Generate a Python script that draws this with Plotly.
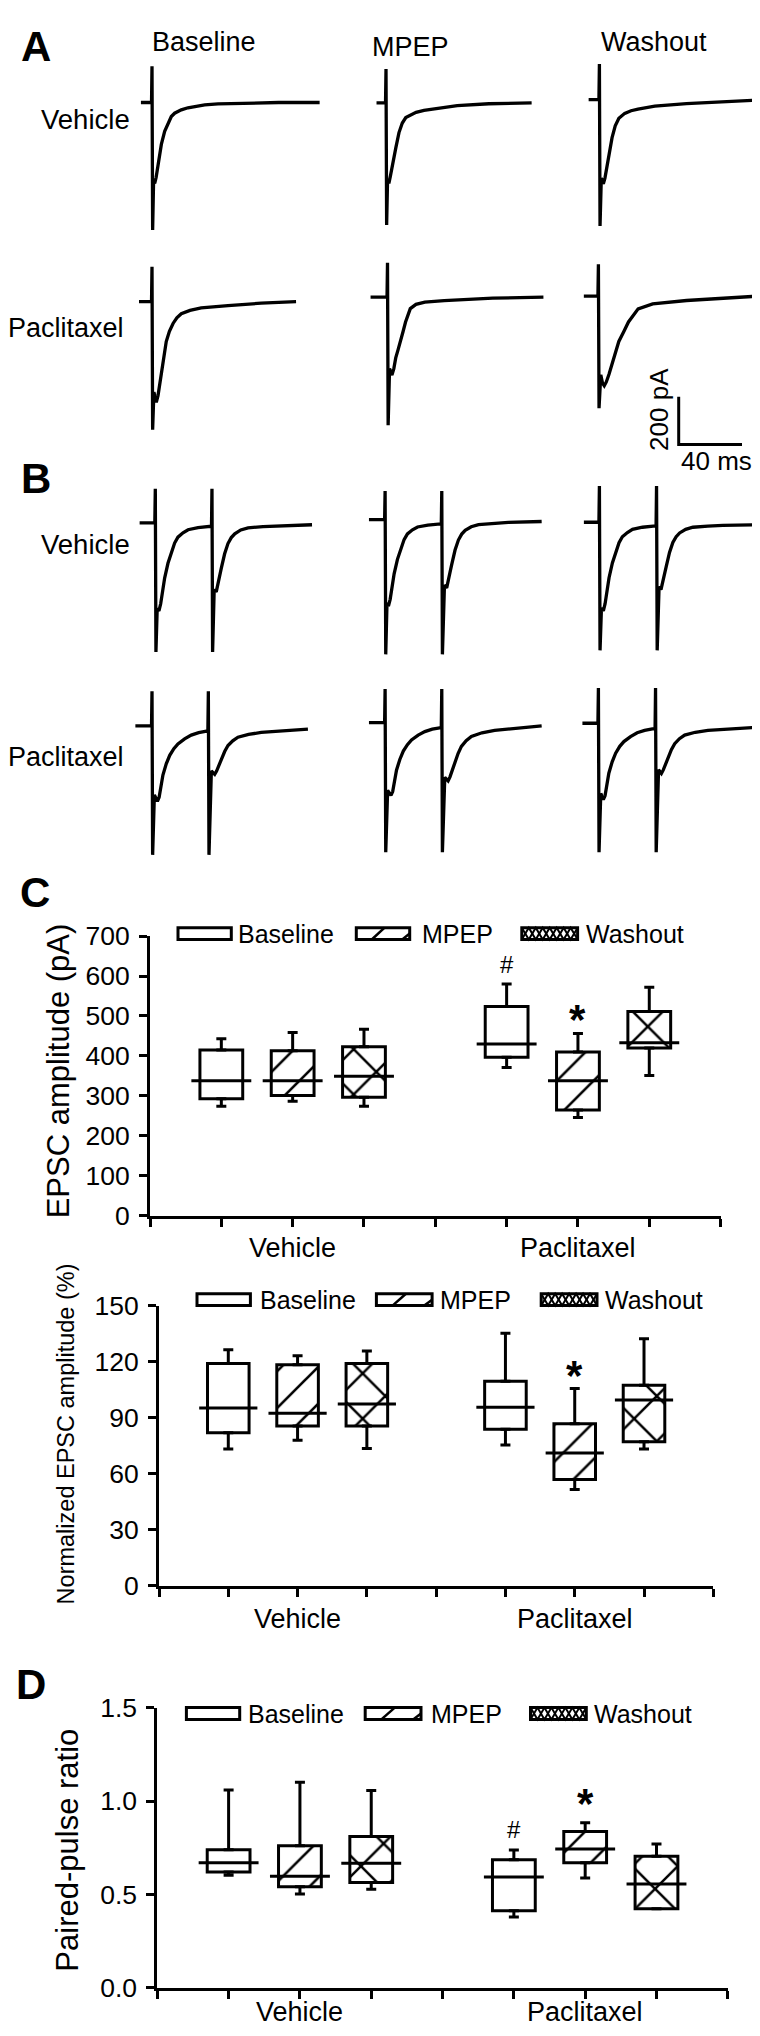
import plotly.graph_objects as go

W, H = 760, 2036
FONT = "Liberation Sans, Arial, Helvetica, sans-serif"
INK = "black"

# ---------------- Panel A: single EPSC traces (time in ms from stimulus, current in pA) -------------
A_VEH_BASELINE_MS = [-7, -0.3, 0, 0.4, 1.0, 1.7, 2.6, 3.8, 4.9, 5.9, 8.0, 10.1, 12.2, 14.3, 18.5, 22.7, 33.3, 41.7, 58.6, 80, 106]
A_VEH_BASELINE_PA = [0, 0, 152, -535, -330, -340, -315, -270, -232, -176, -121, -87, -59, -45, -31, -22, -10, -6, -2, 0, 0]
A_VEH_MPEP_MS = [-6, -0.3, 0, 0.4, 1.0, 1.8, 2.7, 3.9, 5.0, 6.2, 8.2, 10.3, 12.5, 15.3, 19, 24, 30.7, 45, 65, 92]
A_VEH_MPEP_PA = [0, 0, 142, -513, -320, -338, -310, -265, -225, -189, -125, -85, -62, -51, -40, -32, -26, -12, -4, 0]
A_VEH_WASH_MS = [-6.8, -0.3, 0, 0.4, 1.2, 2.5, 3.5, 4.8, 6.1, 8, 10, 12.3, 16, 20, 24.4, 35, 55, 85.7, 105.6]
A_VEH_WASH_PA = [0, 0, 149, -531, -330, -354, -330, -280, -230, -160, -110, -79, -58, -47, -40, -28, -17, -5, 0]
A_PAC_BASELINE_MS = [-8.2, -0.3, 0, 0.4, 1.2, 2.7, 3.8, 4.8, 5.9, 7.3, 9.0, 11, 13.3, 15.7, 18.5, 24, 31.1, 48, 69, 91]
A_PAC_BASELINE_PA = [0, 0, 146, -538, -380, -423, -395, -350, -306, -235, -168, -125, -92, -68, -51, -37, -27, -17, -7, 0]
A_PAC_MPEP_MS = [-10.7, -0.3, 0, 0.4, 1.3, 2.8, 4.0, 5.2, 6.7, 8.3, 9.8, 11.4, 14.4, 18, 23.6, 35.8, 66.5, 98.5]
A_PAC_MPEP_PA = [0, 0, 145, -538, -300, -327, -300, -255, -220, -186, -145, -104, -48, -30, -21, -14, -4, 0]
A_PAC_WASH_MS = [-9.2, -0.3, 0, 0.4, 1.5, 2.6, 3.7, 5.0, 6.7, 9.8, 12.9, 16, 19, 25.1, 34.3, 55.7, 80.2, 100]
A_PAC_WASH_PA = [0, 0, 134, -470, -330, -365, -376, -360, -328, -259, -190, -149, -108, -53, -32, -18, -8, 0]

# ---------------- Panel B: paired-pulse traces ----------------
B_VEH_BASELINE_MS = [-9.9, -0.3, 0, 0.4, 1.2, 2.3, 3.4, 4.6, 5.9, 8, 10.1, 12.2, 14.3, 17.5, 20.7, 27, 35.5, 35.8, 36.2, 37.2, 38.5, 39.6, 40.6, 41.7, 43.8, 45.9, 48, 50.2, 54, 58.6, 68, 77.5, 99]
B_VEH_BASELINE_PA = [0, 0, 143, -542, -360, -370, -340, -290, -232, -170, -122, -85, -60, -42, -29, -20, -14, 143, -542, -280, -290, -260, -225, -190, -130, -87, -62, -46, -30, -21, -16, -14, -8]
B_VEH_MPEP_MS = [-10.2, -0.3, 0, 0.4, 1.2, 2.1, 3.2, 4.4, 5.7, 7.8, 9.9, 12, 14.1, 17.3, 20.5, 27, 35.5, 35.8, 36.2, 37.5, 38.9, 40, 41, 42.1, 44.2, 46.3, 48.4, 50.6, 54.4, 59, 68.4, 77.9, 98.9]
B_VEH_MPEP_PA = [0, 0, 120, -566, -350, -363, -335, -285, -228, -167, -120, -84, -60, -43, -31, -23, -18, 120, -566, -275, -287, -258, -222, -188, -128, -86, -61, -45, -30, -21, -15, -12, -8]
B_VEH_WASH_MS = [-9.8, -0.3, 0, 0.4, 1.3, 2.5, 3.6, 4.8, 6.1, 8.2, 10.3, 12.4, 14.5, 17.7, 20.9, 27.2, 35.8, 36.1, 36.5, 37.7, 38.9, 40, 41.1, 42.2, 44.3, 46.4, 48.5, 50.7, 54.5, 59.1, 68.5, 78, 99.7]
B_VEH_WASH_PA = [0, 0, 152, -538, -360, -372, -342, -292, -233, -171, -123, -86, -61, -43, -30, -21, -15, 152, -538, -270, -283, -255, -220, -186, -127, -85, -61, -45, -30, -21, -16, -13, -11]
B_PAC_BASELINE_MS = [-10.5, -0.3, 0, 0.4, 1.5, 3.4, 4.5, 5.7, 6.9, 9, 11.2, 13.8, 16.4, 20.6, 24.8, 29.5, 35.3, 35.6, 36.0, 37.5, 39.6, 40.8, 42.3, 43.8, 45.9, 48, 51, 54.3, 61, 69, 83, 98.5]
B_PAC_BASELINE_PA = [0, 0, 145, -542, -290, -317, -300, -260, -207, -160, -124, -96, -76, -55, -39, -29, -21, 145, -542, -190, -204, -190, -165, -138, -108, -83, -63, -48, -36, -28, -20, -14]
B_PAC_MPEP_MS = [-10.2, -0.3, 0, 0.4, 1.6, 3.7, 4.8, 6.0, 7.2, 9.3, 11.5, 14.1, 16.7, 20.9, 25.1, 29.8, 35.5, 35.8, 36.2, 37.7, 39.8, 41.0, 42.5, 44.0, 46.1, 48.2, 51.2, 54.5, 61.2, 69.2, 83.2, 98.9]
B_PAC_MPEP_PA = [0, 0, 141, -545, -285, -306, -290, -250, -200, -155, -120, -93, -73, -53, -38, -28, -21, 141, -545, -230, -245, -228, -198, -166, -130, -100, -76, -58, -43, -33, -23, -14]
B_PAC_WASH_MS = [-10.1, -0.3, 0, 0.4, 1.5, 3.1, 4.2, 5.4, 6.6, 8.7, 10.9, 13.5, 16.1, 20.3, 24.5, 29.2, 35.8, 36.1, 36.5, 38.0, 39.8, 41.0, 42.5, 44.0, 46.1, 48.2, 51.2, 54.5, 61.2, 69.2, 83.2, 98.3]
B_PAC_WASH_PA = [0, 0, 148, -542, -295, -321, -305, -262, -210, -162, -126, -97, -77, -56, -40, -30, -22, 148, -542, -196, -211, -196, -170, -142, -111, -86, -65, -50, -38, -30, -23, -18]

SCALE_BAR_MS = [0, 0, 40]
SCALE_BAR_PA = [200, 0, 0]

# ---------------- Box statistics: [low whisker, Q1, median, Q3, high whisker] for [Vehicle, Paclitaxel] ----
GROUPS = ["Vehicle", "Paclitaxel"]
CONDITIONS = ["Baseline", "MPEP", "Washout"]

C1_BASELINE = [[274, 293, 338, 415, 443], [371, 397, 430, 524, 580]]
C1_MPEP = [[287, 301, 338, 413, 459], [246, 265, 338, 410, 456]]
C1_WASHOUT = [[274, 297, 349, 423, 467], [351, 420, 433, 511, 572]]

C2_BASELINE = [[73.2, 81.9, 95.1, 118.9, 126.3], [75.3, 83.7, 95.5, 109.4, 135.1]]
C2_MPEP = [[77.9, 85.5, 92.3, 118.3, 123.1], [51.5, 56.8, 71.0, 86.7, 105.5]]
C2_WASHOUT = [[73.5, 85.5, 97.2, 118.9, 125.7], [73.2, 77.0, 99.4, 107.3, 132.2]]

D_BASELINE = [[0.603, 0.621, 0.670, 0.740, 1.060], [0.380, 0.413, 0.594, 0.686, 0.739]]
D_MPEP = [[0.503, 0.542, 0.598, 0.761, 1.101], [0.589, 0.670, 0.744, 0.837, 0.885]]
D_WASHOUT = [[0.528, 0.564, 0.668, 0.811, 1.057], [0.424, 0.424, 0.557, 0.705, 0.770]]

C1_SIGNIF = [("#", 5, 629), ("*", 6, 503)]
C2_SIGNIF = [("*", 6, 115)]
D_SIGNIF = [("#", 5, 0.846), ("*", 6, 1.017)]

C1_TICKS = [0, 100, 200, 300, 400, 500, 600, 700]
C2_TICKS = [0, 30, 60, 90, 120, 150]
D_TICKS = [0.0, 0.5, 1.0, 1.5]

# ---------------- layout constants ----------------
PX_PER_MS = 1.583
PX_PER_PA = 0.2417
XMIN, XMAX = -12, 106
YMIN, YMAX = -600, 200

TRACES = [
    (A_VEH_BASELINE_MS, A_VEH_BASELINE_PA), (A_VEH_MPEP_MS, A_VEH_MPEP_PA), (A_VEH_WASH_MS, A_VEH_WASH_PA),
    (A_PAC_BASELINE_MS, A_PAC_BASELINE_PA), (A_PAC_MPEP_MS, A_PAC_MPEP_PA), (A_PAC_WASH_MS, A_PAC_WASH_PA),
    (B_VEH_BASELINE_MS, B_VEH_BASELINE_PA), (B_VEH_MPEP_MS, B_VEH_MPEP_PA), (B_VEH_WASH_MS, B_VEH_WASH_PA),
    (B_PAC_BASELINE_MS, B_PAC_BASELINE_PA), (B_PAC_MPEP_MS, B_PAC_MPEP_PA), (B_PAC_WASH_MS, B_PAC_WASH_PA),
]
# pixel position of (stimulus time, baseline current) in each cell
CELL_ORIGIN_PX = [
    (144, 80.7), (378, 81), (591.4, 77.7),
    (144, 282.7), (379.5, 278.3), (590.4, 277.3),
    (147.3, 507.3), (377.1, 504), (591.4, 506.7),
    (144, 713.3), (377.1, 710), (590.4, 710.7),
]
SCALE_ORIGIN_PX = (670.7, 427.7)


def px(x):
    return x / W


def py(y):
    return 1 - y / H


def ax_key(k, letter):
    return f"{letter}axis" if k == 1 else f"{letter}axis{k}"


def ax_ref(k, letter):
    return letter if k == 1 else f"{letter}{k}"


fig = go.Figure()
axes = {}
annotations = []
shapes = []

# ---- trace cells ----
for k, ((t, pa), (ox, oy)) in enumerate(zip(TRACES, CELL_ORIGIN_PX), start=1):
    fig.add_trace(go.Scatter(x=t, y=pa, mode="lines", line=dict(color=INK, width=3.3),
                             xaxis=ax_ref(k, "x"), yaxis=ax_ref(k, "y"),
                             showlegend=False, hoverinfo="skip"))
    axes[ax_key(k, "x")] = dict(domain=[px(ox + XMIN * PX_PER_MS), px(ox + XMAX * PX_PER_MS)],
                                range=[XMIN, XMAX], visible=False, anchor=ax_ref(k, "y"), fixedrange=True)
    axes[ax_key(k, "y")] = dict(domain=[py(oy - YMIN * PX_PER_PA), py(oy - YMAX * PX_PER_PA)],
                                range=[YMIN, YMAX], visible=False, anchor=ax_ref(k, "x"), fixedrange=True)

# ---- scale bar ----
k = 13
ox, oy = SCALE_ORIGIN_PX
fig.add_trace(go.Scatter(x=SCALE_BAR_MS, y=SCALE_BAR_PA, mode="lines", line=dict(color=INK, width=3),
                         xaxis=ax_ref(k, "x"), yaxis=ax_ref(k, "y"), showlegend=False, hoverinfo="skip"))
axes[ax_key(k, "x")] = dict(domain=[px(ox - 3 * PX_PER_MS), px(ox + 45 * PX_PER_MS)], range=[-3, 45],
                            visible=False, anchor=ax_ref(k, "y"), fixedrange=True)
axes[ax_key(k, "y")] = dict(domain=[py(oy + 10 * PX_PER_PA), py(oy - 215 * PX_PER_PA)], range=[-10, 215],
                            visible=False, anchor=ax_ref(k, "x"), fixedrange=True)


def text(x, y, s, size, bold=False, angle=0, xanchor="center"):
    annotations.append(dict(x=px(x), y=py(y), xref="paper", yref="paper", text=f"<b>{s}</b>" if bold else s,
                            showarrow=False, xanchor=xanchor, yanchor="middle", textangle=angle,
                            font=dict(family=FONT, size=size, color=INK)))


# panel letters and labels
text(28, 24, "A", 42, bold=True)
text(28, 462, "B", 42, bold=True)
text(27, 882, "C", 42, bold=True)
text(23, 1686, "D", 42, bold=True)
text(196, 19, "Baseline", 27)
text(402, 24, "MPEP", 27)
text(646, 19, "Washout", 27)
text(77, 97.5, "Vehicle", 27.5)
text(57.7, 310, "Paclitaxel", 27)
text(77, 529, "Vehicle", 27.5)
text(57.7, 745, "Paclitaxel", 27)
text(651.7, 392, "200 pA", 26, angle=-90)
text(708, 445, "40 ms", 26)

# ---- box charts ----
POSITIONS = {"Baseline": [1, 5], "MPEP": [2, 6], "Washout": [3, 7]}
PATTERNS = {"Baseline": dict(shape=""),
            "MPEP": dict(shape="/", size=26, solidity=0.1, fgcolor=INK, bgcolor="white", fillmode="replace"),
            "Washout": dict(shape="x", size=32, solidity=0.15, fgcolor=INK, bgcolor="white", fillmode="replace")}
BOX_W = 0.6

CHARTS = [
    dict(k=14, stats=[C1_BASELINE, C1_MPEP, C1_WASHOUT], xdom=(142, 712.6), ydom=(926.7, 1210.7),
         yr=(0, 700), ticks=C1_TICKS, fmt="{:d}", signif=C1_SIGNIF, title="EPSC amplitude (pA)",
         title_xy=(50, 1064), title_size=31, leg_y=924.2, cat_y=1243,
         legend=[(170, 223.3, 228.3), (348.3, 401.7, 411.7), (513.8, 569.6, 575.9)]),
    dict(k=15, stats=[C2_BASELINE, C2_MPEP, C2_WASHOUT], xdom=(151, 705.3), ydom=(1301.7, 1586),
         yr=(0, 150), ticks=C2_TICKS, fmt="{:d}", signif=C2_SIGNIF, title="Normalized EPSC amplitude (%)",
         title_xy=(58, 1432.5), title_size=23.5, leg_y=1295.8, cat_y=1620,
         legend=[(189, 242.4, 249.6), (368.4, 424.1, 430.4), (533.2, 589, 595.2)]),
    dict(k=16, stats=[D_BASELINE, D_MPEP, D_WASHOUT], xdom=(149.3, 719.8), ydom=(1710, 1994.3),
         yr=(0, 1.5), ticks=D_TICKS, fmt="{:.1f}", signif=D_SIGNIF, title="Paired-pulse ratio",
         title_xy=(60, 1855), title_size=31, leg_y=1715.8, cat_y=2019,
         legend=[(178.4, 231.7, 237.5), (357.2, 413, 420.7), (522.5, 578.3, 584.1)]),
]

for ch in CHARTS:
    k = ch["k"]
    xr, yr = ax_ref(k, "x"), ax_ref(k, "y")
    unit_px = (ch["xdom"][1] - ch["xdom"][0]) / 8
    for cond, stats in zip(CONDITIONS, ch["stats"]):
        xs = POSITIONS[cond]
        lo = [s[0] for s in stats]
        q1 = [s[1] for s in stats]
        med = [s[2] for s in stats]
        q3 = [s[3] for s in stats]
        hi = [s[4] for s in stats]
        fig.add_trace(go.Bar(x=xs, y=[b - a for a, b in zip(q1, q3)], base=q1, width=BOX_W,
                             marker=dict(color="white", line=dict(color=INK, width=3), pattern=PATTERNS[cond]),
                             xaxis=xr, yaxis=yr, showlegend=False, hoverinfo="skip"))
        fig.add_trace(go.Scatter(x=xs, y=med, mode="markers",
                                 marker=dict(symbol="line-ew", size=BOX_W * unit_px, color=INK,
                                             line=dict(color=INK, width=3)),
                                 xaxis=xr, yaxis=yr, showlegend=False, hoverinfo="skip"))
        fig.add_trace(go.Scatter(x=xs, y=q3, mode="markers", marker=dict(size=1, color="rgba(0,0,0,0)"),
                                 error_y=dict(type="data", symmetric=False, array=[b - a for a, b in zip(q3, hi)],
                                              arrayminus=[0, 0], width=5, thickness=3, color=INK),
                                 xaxis=xr, yaxis=yr, showlegend=False, hoverinfo="skip"))
        fig.add_trace(go.Scatter(x=xs, y=q1, mode="markers", marker=dict(size=1, color="rgba(0,0,0,0)"),
                                 error_y=dict(type="data", symmetric=False, array=[0, 0],
                                              arrayminus=[a - b for a, b in zip(q1, lo)],
                                              width=5, thickness=3, color=INK),
                                 xaxis=xr, yaxis=yr, showlegend=False, hoverinfo="skip"))
    axes[ax_key(k, "x")] = dict(domain=[px(ch["xdom"][0]), px(ch["xdom"][1])], range=[0, 8],
                                tickvals=list(range(9)), showticklabels=False,
                                ticks="outside", ticklen=8, tickwidth=3, tickcolor=INK,
                                showline=True, linewidth=3, linecolor=INK, showgrid=False, zeroline=False,
                                anchor=yr, fixedrange=True)
    axes[ax_key(k, "y")] = dict(domain=[py(ch["ydom"][1]), py(ch["ydom"][0])], range=list(ch["yr"]),
                                tickvals=ch["ticks"], ticktext=[ch["fmt"].format(v) for v in ch["ticks"]],
                                ticks="outside", ticklen=8, tickwidth=3, tickcolor=INK,
                                showline=True, linewidth=3, linecolor=INK, showgrid=False, zeroline=False,
                                tickfont=dict(family=FONT, size=26.5, color=INK), ticklabelstandoff=4,
                                anchor=xr, fixedrange=True)
    # group (category) labels under the axis
    for gx, g in zip([2, 6], GROUPS):
        annotations.append(dict(x=gx, y=py(ch["cat_y"]), xref=xr, yref="paper", text=g, showarrow=False,
                                xanchor="center", yanchor="middle",
                                font=dict(family=FONT, size=27, color=INK)))
    # y title
    text(ch["title_xy"][0], ch["title_xy"][1], ch["title"], ch["title_size"], angle=-90)
    # significance marks
    for sym, xv, yv in ch["signif"]:
        size = 24 if sym == "#" else 42
        annotations.append(dict(x=xv, y=yv, xref=xr, yref=yr, text=f"<b>{sym}</b>" if sym == "*" else sym,
                                showarrow=False, xanchor="center", yanchor="middle",
                                yshift=-5 if sym == "*" else 0,
                                font=dict(family=FONT, size=size, color=INK)))
    # legend
    cy = ch["leg_y"]
    top, bot = cy - 6, cy + 6
    for cond, (x0, x1, tx) in zip(CONDITIONS, ch["legend"]):
        w = x1 - x0
        shapes.append(dict(type="rect", xref="paper", yref="paper", x0=px(x0), x1=px(x1), y0=py(bot), y1=py(top),
                           line=dict(color=INK, width=3), fillcolor="white"))
        if cond == "MPEP":
            shapes.append(dict(type="line", xref="paper", yref="paper",
                               x0=px(x0 + 0.29 * w), y0=py(bot), x1=px(x0 + 0.53 * w), y1=py(top),
                               line=dict(color=INK, width=2.5)))
            shapes.append(dict(type="line", xref="paper", yref="paper",
                               x0=px(x0 + 0.86 * w), y0=py(bot), x1=px(x1), y1=py(cy),
                               line=dict(color=INK, width=2.5)))
        elif cond == "Washout":
            n = 4
            p1 = f"M {px(x0)},{py(top)}"
            p2 = f"M {px(x0)},{py(bot)}"
            for i in range(n):
                p1 += f" L {px(x0 + (i + 0.5) * w / n)},{py(bot)} L {px(x0 + (i + 1) * w / n)},{py(top)}"
                p2 += f" L {px(x0 + (i + 0.5) * w / n)},{py(top)} L {px(x0 + (i + 1) * w / n)},{py(bot)}"
            for p in (p1, p2):
                shapes.append(dict(type="path", xref="paper", yref="paper", path=p,
                                   line=dict(color=INK, width=2)))
        text(tx, cy, cond, 25, xanchor="left")

fig.update_layout(width=W, height=H, autosize=False, margin=dict(l=0, r=0, t=0, b=0),
                  paper_bgcolor="white", plot_bgcolor="rgba(0,0,0,0)", barmode="overlay",
                  showlegend=False, annotations=annotations, shapes=shapes,
                  font=dict(family=FONT, color=INK), **axes)

fig.write_html("out.html")
